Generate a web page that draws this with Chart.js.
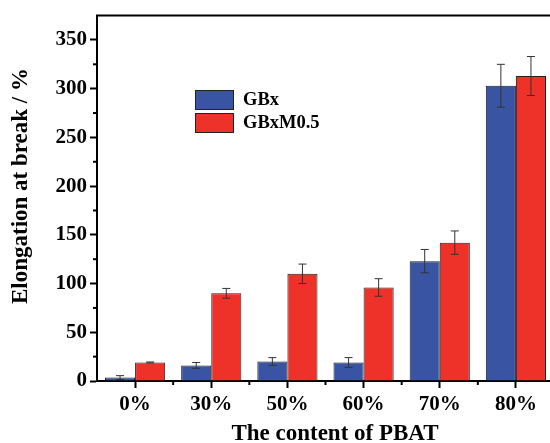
<!DOCTYPE html>
<html>
<head>
<meta charset="utf-8">
<script src="https://cdn.jsdelivr.net/npm/chart.js@4.4.0/dist/chart.umd.min.js"></script>
<style>
  html, body { margin: 0; padding: 0; background: #fff; overflow: hidden; }
  #wrap { width: 550px; height: 443px; overflow: hidden; }
  #box { width: 560px; height: 443px; }
</style>
</head>
<body>
<div id="wrap"><div id="box"><canvas id="myChart"></canvas></div></div>
<script>
// data
const categories = ['0%', '30%', '50%', '60%', '70%', '80%'];
const gbx = [3.5, 16, 20, 19, 123, 303];
const gbxErr = [2, 3, 4, 5, 12, 22];
const gbxm = [19, 90, 110, 96, 142, 313];
const gbxmErr = [0.5, 5, 10, 9, 12, 20];
const yTicks = [0, 50, 100, 150, 200, 250, 300, 350];

const xTitle = 'The content of PBAT';
const yTitle = 'Elongation at break / %';
const serif = "'Liberation Serif', 'DejaVu Serif', serif";

// error bars, minor ticks, top frame, axis titles and legend
const extras = {
    id: 'extras',
    afterDatasetsDraw(chart) {
        const ctx = chart.ctx;
        const y = chart.scales.y;
        const x = chart.scales.x;
        const area = chart.chartArea;
        const errs = [gbxErr, gbxmErr];

        ctx.save();
        ctx.strokeStyle = '#333';
        ctx.lineWidth = 1;
        chart.data.datasets.forEach((ds, i) => {
            chart.getDatasetMeta(i).data.forEach((bar, j) => {
                const v = ds.data[j];
                const top = y.getPixelForValue(v + errs[i][j]);
                const bot = y.getPixelForValue(v - errs[i][j]);
                ctx.beginPath();
                ctx.moveTo(bar.x, top); ctx.lineTo(bar.x, bot);
                ctx.moveTo(bar.x - 4, top); ctx.lineTo(bar.x + 4, top);
                ctx.moveTo(bar.x - 4, bot); ctx.lineTo(bar.x + 4, bot);
                ctx.stroke();
            });
        });

        ctx.strokeStyle = '#000';
        ctx.lineWidth = 2;
        // minor y ticks
        for (let v = 25; v < 375; v += 50) {
            const py = y.getPixelForValue(v);
            ctx.beginPath(); ctx.moveTo(area.left - 4, py); ctx.lineTo(area.left, py); ctx.stroke();
        }
        // minor x ticks at category boundaries
        for (let k = 0; k < categories.length; k++) {
            const px = x.getPixelForValue(k) + (x.getPixelForValue(1) - x.getPixelForValue(0)) / 2;
            ctx.beginPath(); ctx.moveTo(px, area.bottom); ctx.lineTo(px, area.bottom + 4); ctx.stroke();
        }
        // top frame
        ctx.beginPath(); ctx.moveTo(area.left - 1, area.top); ctx.lineTo(area.right + 10, area.top); ctx.stroke();

        // axis titles
        ctx.fillStyle = '#000';
        ctx.font = 'bold 23px ' + serif;
        ctx.textAlign = 'center';
        ctx.textBaseline = 'middle';
        ctx.fillText(xTitle, 335, 434);
        ctx.save();
        ctx.translate(21, 186);
        ctx.rotate(-Math.PI / 2);
        ctx.fillText(yTitle, 0, 0);
        ctx.restore();

        // legend
        ctx.font = 'bold 18.5px ' + serif;
        ctx.textAlign = 'left';
        ctx.lineWidth = 1;
        chart.data.datasets.forEach((ds, i) => {
            const ly = 90 + i * 23;
            ctx.fillStyle = ds.backgroundColor;
            ctx.fillRect(195, ly, 38, 19);
            ctx.strokeStyle = '#222';
            ctx.strokeRect(195.5, ly + 0.5, 38, 19);
            ctx.fillStyle = '#000';
            ctx.fillText(ds.label, 243, ly + 10);
        });
        ctx.restore();
    }
};

document.addEventListener('DOMContentLoaded', function () {
    const ctx = document.getElementById('myChart').getContext('2d');
    new Chart(ctx, {
        type: 'bar',
        data: {
            labels: categories,
            datasets: [{
                label: 'GBx',
                data: gbx,
                backgroundColor: '#3a54a4',
                borderColor: '#1c1c2c',
                borderWidth: 1,
                barPercentage: 1,
                categoryPercentage: 0.79
            }, {
                label: 'GBxM0.5',
                data: gbxm,
                backgroundColor: '#ee3229',
                borderColor: '#2c1c1c',
                borderWidth: 1,
                barPercentage: 1,
                categoryPercentage: 0.79
            }]
        },
        options: {
            responsive: true,
            maintainAspectRatio: false,
            animation: false,
            layout: { padding: { top: 15, right: 6, left: 0, bottom: 0 } },
            plugins: {
                legend: { display: false },
                tooltip: { enabled: false }
            },
            scales: {
                x: {
                    grid: { drawOnChartArea: false, offset: false, tickLength: 7, tickColor: '#000', tickWidth: 2 },
                    border: { color: '#000', width: 2 },
                    ticks: { color: '#000', font: { family: serif, weight: 'bold', size: 21 }, padding: 4 },
                    afterFit(scale) { scale.height = 62; }
                },
                y: {
                    min: 0,
                    max: 375,
                    afterBuildTicks(scale) { scale.ticks = yTicks.map(v => ({ value: v })); },
                    grid: { drawOnChartArea: false, tickLength: 7, tickColor: '#000', tickWidth: 2 },
                    border: { color: '#000', width: 2 },
                    ticks: { color: '#000', font: { family: serif, weight: 'bold', size: 21 }, padding: 3 },
                    afterFit(scale) { scale.width = 97; }
                }
            }
        },
        plugins: [extras]
    });
});
</script>
</body>
</html>
